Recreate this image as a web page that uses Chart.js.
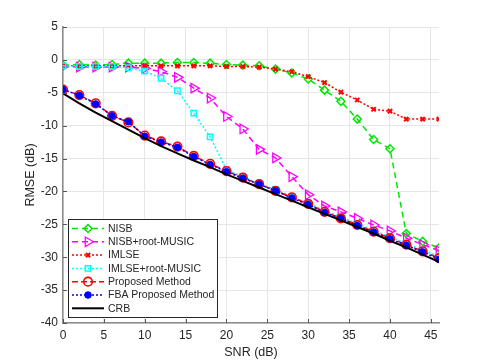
<!DOCTYPE html>
<html>
<head>
<meta charset="utf-8">
<script src="https://cdn.jsdelivr.net/npm/chart.js@4.4.0/dist/chart.umd.min.js"></script>
<style>
  html, body { margin: 0; padding: 0; background: #fff; }
  #wrap { width: 485px; height: 363px; }
</style>
</head>
<body>
<div id="wrap"><canvas id="myChart" width="485" height="363"></canvas></div>
<script>
// SNR grid (dB)
const snr = [0, 2, 4, 6, 8, 10, 12, 14, 16, 18, 20, 22, 24, 26, 28, 30, 32, 34, 36, 38, 40, 42, 44, 46]

// RMSE (dB)
const nisb = [-0.8, -0.7, -0.8, -0.7, -0.5, -0.5, -0.5, -0.4, -0.4, -0.5, -0.7, -0.8, -0.9, -1.4, -2.0, -2.9, -4.6, -6.3, -9.0, -12.1, -13.5, -26.4, -27.6, -28.6]
const nisbRootMusic = [-1.0, -1.1, -1.1, -1.1, -1.1, -1.3, -1.8, -2.65, -4.3, -5.8, -8.6, -10.5, -13.6, -14.9, -17.75, -20.5, -22.2, -23.1, -24.1, -25.1, -26.0, -27.1, -28.1, -29.0]
const imlse = [-0.9, -0.9, -0.9, -0.9, -0.9, -0.9, -0.9, -0.9, -0.9, -0.9, -1.0, -1.0, -1.1, -1.4, -1.8, -2.55, -3.45, -4.9, -6.1, -7.5, -7.8, -9.0, -9.0, -9.0]
const imlseRootMusic = [-0.9, -1.0, -1.0, -1.0, -1.2, -1.7, -2.8, -4.7, -8.1, -11.7, -16.7, -17.75, -18.8, -19.7, -20.8, -21.8, -22.9, -23.9, -24.9, -25.9, -26.9, -27.9, -28.9, -29.9]
const proposed = [-4.5, -5.35, -6.6, -8.5, -9.5, -11.5, -12.4, -13.2, -14.6, -15.8, -16.9, -17.9, -18.9, -19.9, -20.9, -21.9, -23.1, -24.1, -25.1, -26.1, -27.1, -28.1, -29.1, -30.15]
const fbaProposed = [-4.5, -5.4, -6.7, -8.5, -9.4, -11.6, -12.5, -13.3, -14.7, -15.9, -17.0, -18.0, -18.9, -19.9, -21.0, -22.0, -23.2, -24.1, -25.2, -26.2, -27.2, -28.2, -29.2, -30.3]
const crb = [-5.1, -6.6, -8.0, -9.3, -10.6, -11.9, -13.1, -14.2, -15.3, -16.3, -17.4, -18.4, -19.4, -20.4, -21.4, -22.4, -23.4, -24.4, -25.4, -26.4, -27.5, -28.5, -29.6, -30.7]

const labels = ["NISB", "NISB+root-MUSIC", "IMLSE", "IMLSE+root-MUSIC", "Proposed Method", "FBA Proposed Method", "CRB"]

function pts(values) {
    return snr.map((s, i) => ({ x: s, y: values[i] }))
}

const FONT = "'Liberation Sans', Arial, sans-serif"
const TEXT = "#262626"

// small inward tick marks on the left and bottom axes
const innerTicks = {
    id: "innerTicks",
    afterDatasetsDraw(chart) {
        const ctx = chart.ctx
        const a = chart.chartArea
        ctx.save()
        ctx.strokeStyle = "#555"
        ctx.lineWidth = 1
        ctx.beginPath()
        chart.scales.x.ticks.forEach(t => {
            const px = Math.round(chart.scales.x.getPixelForValue(t.value)) + 0.5
            ctx.moveTo(px, a.bottom)
            ctx.lineTo(px, a.bottom - 4)
        })
        chart.scales.y.ticks.forEach(t => {
            const py = Math.round(chart.scales.y.getPixelForValue(t.value)) + 0.5
            ctx.moveTo(a.left, py)
            ctx.lineTo(a.left + 4, py)
        })
        ctx.stroke()
        ctx.restore()
    }
}

// legend drawn inside the plot, bottom-left, like the MATLAB one
const insideLegend = {
    id: "insideLegend",
    afterDraw(chart) {
        const ctx = chart.ctx
        const x0 = 68, y0 = 219, w = 149, h = 98
        ctx.save()
        ctx.fillStyle = "#fff"
        ctx.fillRect(x0, y0, w, h)
        ctx.strokeStyle = "#262626"
        ctx.lineWidth = 1
        ctx.strokeRect(x0 + 0.5, y0 + 0.5, w, h)

        chart.data.datasets.forEach((ds, i) => {
            const y = y0 + 9.5 + i * 13.3
            ctx.setLineDash(ds.borderDash || [])
            ctx.strokeStyle = ds.borderColor
            ctx.lineWidth = ds.borderWidth
            ctx.beginPath()
            ctx.moveTo(72, y)
            ctx.lineTo(104, y)
            ctx.stroke()
            ctx.setLineDash([])
            if (ds.pointRadius > 0) {
                ctx.strokeStyle = ds.pointBorderColor
                ctx.fillStyle = ds.pointBackgroundColor
                ctx.lineWidth = ds.pointBorderWidth
                Chart.helpers.drawPoint(ctx, {
                    pointStyle: ds.pointStyle,
                    rotation: ds.pointRotation || 0,
                    radius: ds.pointRadius,
                    borderWidth: ds.pointBorderWidth
                }, 88, y)
            }
            ctx.fillStyle = TEXT
            ctx.font = "10.5px " + FONT
            ctx.textBaseline = "middle"
            ctx.textAlign = "left"
            ctx.fillText(labels[i], 108, y + 0.5)
        })
        ctx.restore()
    }
}

const ctx = document.getElementById("myChart")

new Chart(ctx, {
    type: "line",
    data: {
        datasets: [{
            data: pts(nisb),
            borderColor: "#00e600",
            borderWidth: 1.5,
            borderDash: [6, 4],
            pointStyle: "rectRot",
            pointRadius: 4,
            pointBorderColor: "#00e600",
            pointBackgroundColor: "rgba(0,0,0,0)",
            pointBorderWidth: 1.5,
            order: 7
        }, {
            data: pts(nisbRootMusic),
            borderColor: "#ff00ff",
            borderWidth: 1.5,
            borderDash: [6, 4],
            pointStyle: "triangle",
            pointRotation: 90,
            pointRadius: 5.5,
            pointBorderColor: "#ff00ff",
            pointBackgroundColor: "rgba(0,0,0,0)",
            pointBorderWidth: 1.3,
            order: 6
        }, {
            data: pts(imlse),
            borderColor: "#ff0000",
            borderWidth: 1.5,
            borderDash: [2, 2],
            pointStyle: "crossRot",
            pointRadius: 3,
            pointBorderColor: "#ff0000",
            pointBackgroundColor: "#ff0000",
            pointBorderWidth: 2,
            order: 5
        }, {
            data: pts(imlseRootMusic),
            borderColor: "#00ffff",
            borderWidth: 1.5,
            borderDash: [2, 2],
            pointStyle: "rect",
            pointRadius: 3.8,
            pointBorderColor: "#00ffff",
            pointBackgroundColor: "rgba(0,0,0,0)",
            pointBorderWidth: 1.5,
            order: 4
        }, {
            data: pts(proposed),
            borderColor: "#ff0000",
            borderWidth: 1.5,
            borderDash: [6, 3],
            pointStyle: "circle",
            pointRadius: 4.3,
            pointBorderColor: "#ff0000",
            pointBackgroundColor: "rgba(0,0,0,0)",
            pointBorderWidth: 1.6,
            order: 3
        }, {
            data: pts(fbaProposed),
            borderColor: "#0000ff",
            borderWidth: 1.5,
            borderDash: [2, 2],
            pointStyle: "circle",
            pointRadius: 3.3,
            pointBorderColor: "#0000ff",
            pointBackgroundColor: "#0000ff",
            pointBorderWidth: 1,
            order: 2
        }, {
            data: pts(crb),
            borderColor: "#000000",
            borderWidth: 2,
            pointRadius: 0,
            pointBorderColor: "#000000",
            pointBackgroundColor: "#000000",
            pointBorderWidth: 0,
            order: 1
        }]
    },
    options: {
        responsive: false,
        animation: false,
        layout: { padding: { left: 23, right: 46, top: 27, bottom: 0 } },
        plugins: {
            legend: { display: false },
            tooltip: { enabled: false }
        },
        elements: { line: { tension: 0, fill: false } },
        scales: {
            x: {
                type: "linear",
                min: 0,
                max: 46,
                afterFit: (scale) => { scale.height = 40 },
                ticks: {
                    stepSize: 5,
                    includeBounds: false,
                    color: TEXT,
                    font: { family: FONT, size: 12 },
                    padding: 5,
                    maxRotation: 0
                },
                grid: { color: "#e6e6e6", drawTicks: false },
                border: { color: "#8c8c8c", width: 1.5 },
                title: {
                    display: true,
                    text: "SNR (dB)",
                    color: TEXT,
                    font: { family: FONT, size: 12.5 },
                    padding: { top: 0, bottom: 3 }
                }
            },
            y: {
                min: -40,
                max: 5,
                afterFit: (scale) => { scale.width = 40 },
                ticks: {
                    stepSize: 5,
                    color: TEXT,
                    font: { family: FONT, size: 12 },
                    padding: 5
                },
                grid: { color: "#e6e6e6", drawTicks: false },
                border: { color: "#8c8c8c", width: 1.5 },
                title: {
                    display: true,
                    text: "RMSE (dB)",
                    color: TEXT,
                    font: { family: FONT, size: 12.5 },
                    padding: { top: 0, bottom: 0 }
                }
            }
        }
    },
    plugins: [innerTicks, insideLegend]
})
</script>
</body>
</html>
